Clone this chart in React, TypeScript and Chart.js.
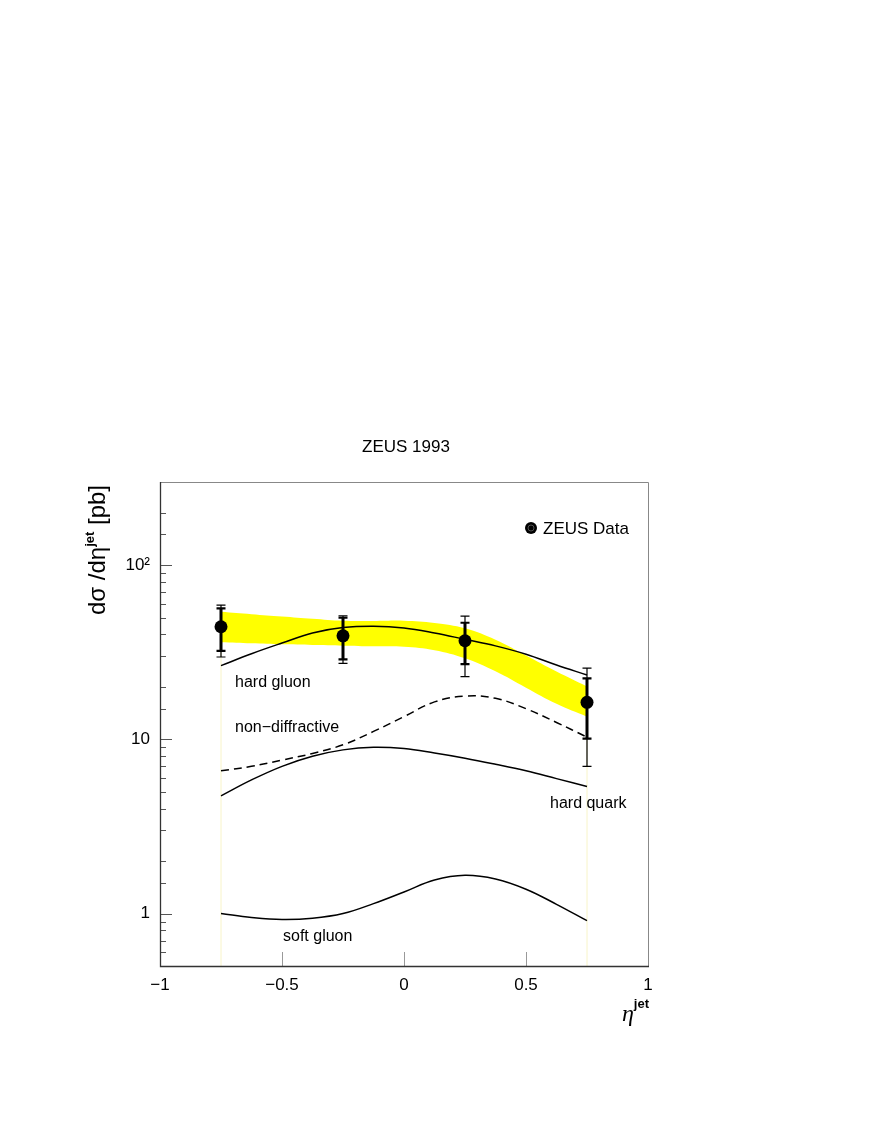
import React, { useEffect, useRef } from "react";
import { Chart, registerables } from "chart.js";

Chart.register(...registerables);

const FONT = '"Liberation Sans", Arial, Helvetica, sans-serif';

// Theory curves sampled in eta^jet
const etaGrid = [-0.75, -0.625, -0.5, -0.375, -0.25, -0.125, 0, 0.125, 0.25, 0.375, 0.5, 0.625, 0.75];
const hardGluon = [26.5, 31.0, 35.7, 40.8, 43.8, 44.6, 43.6, 40.8, 37.5, 34.4, 30.8, 26.7, 23.4];
const nonDiffractive = [6.6, 7.0, 7.6, 8.3, 9.3, 11.1, 13.5, 16.4, 17.7, 17.2, 15.0, 12.5, 10.3];
const hardQuark = [4.74, 5.85, 7.0, 8.0, 8.7, 9.0, 8.85, 8.35, 7.8, 7.2, 6.6, 5.95, 5.36];
const softGluon = [1.0, 0.95, 0.925, 0.94, 1.0, 1.14, 1.33, 1.56, 1.66, 1.58, 1.38, 1.13, 0.91];

// Yellow uncertainty band
const bandUpper = [54.0, 52.3, 50.7, 49.2, 47.9, 47.8, 48.0, 46.6, 43.4, 37.3, 30.3, 24.5, 20.1];
const bandLower = [36.1, 35.6, 35.1, 34.8, 34.5, 34.2, 34.0, 32.5, 29.2, 24.6, 19.8, 16.0, 13.5];

// ZEUS data
const dataEta = [-0.75, -0.25, 0.25, 0.75];
const dataValue = [44.3, 39.3, 36.8, 16.3];
const statHigh = [56.4, 49.9, 46.7, 22.4];
const statLow = [32.2, 28.8, 27.0, 10.1];
const totHigh = [59.0, 51.2, 51.0, 25.6];
const totLow = [29.7, 27.3, 22.9, 7.0];

// Axes
const X_MIN = -1;
const X_MAX = 1;
const Y_MIN = 0.5;
const Y_MAX = 300;
const xTickValues = [-1, -0.5, 0, 0.5, 1];
const xTickLabels = ["\u22121", "\u22120.5", "0", "0.5", "1"];
const yTickValues = [1, 10, 100];
const yTickLabels = ["1", "10", "10\u00B2"];

const pts = (xs: number[], ys: number[]) => xs.map((x, i) => ({ x, y: ys[i] }));

const errorBarPlugin = {
  id: "errorBars",
  afterDatasetsDraw(chart: any) {
    const { ctx } = chart;
    const x = chart.scales.x;
    const y = chart.scales.y;
    const capHalf = 4.5;
    ctx.save();
    ctx.strokeStyle = "#000";
    ctx.lineCap = "butt";
    dataEta.forEach((eta, i) => {
      const px = x.getPixelForValue(eta);
      const yTH = y.getPixelForValue(totHigh[i]);
      const yTL = y.getPixelForValue(totLow[i]);
      const ySH = y.getPixelForValue(statHigh[i]);
      const ySL = y.getPixelForValue(statLow[i]);
      ctx.lineWidth = 1.2;
      ctx.beginPath();
      ctx.moveTo(px, yTL);
      ctx.lineTo(px, yTH);
      ctx.moveTo(px - capHalf, yTL);
      ctx.lineTo(px + capHalf, yTL);
      ctx.moveTo(px - capHalf, yTH);
      ctx.lineTo(px + capHalf, yTH);
      ctx.stroke();
      ctx.lineWidth = 3;
      ctx.beginPath();
      ctx.moveTo(px, ySL);
      ctx.lineTo(px, ySH);
      ctx.stroke();
      ctx.lineWidth = 2.2;
      ctx.beginPath();
      ctx.moveTo(px - capHalf, ySL);
      ctx.lineTo(px + capHalf, ySL);
      ctx.moveTo(px - capHalf, ySH);
      ctx.lineTo(px + capHalf, ySH);
      ctx.stroke();
    });
    ctx.restore();
  },
};

const frameAndTicksPlugin = {
  id: "frameTicks",
  afterDraw(chart: any) {
    const { ctx, chartArea } = chart;
    const { left, right, top, bottom } = chartArea;
    const x = chart.scales.x;
    const y = chart.scales.y;
    ctx.save();
    ctx.strokeStyle = "#555";
    ctx.lineWidth = 1;
    y.ticks.forEach((t: any) => {
      const py = Math.round(y.getPixelForValue(t.value)) + 0.5;
      const lg = Math.log10(t.value);
      const major = Math.abs(lg - Math.round(lg)) < 1e-6;
      const len = major ? 12 : 6;
      ctx.beginPath();
      ctx.moveTo(left, py);
      ctx.lineTo(left + len, py);
      ctx.stroke();
    });
    ctx.strokeStyle = "#999";
    x.ticks.forEach((t: any) => {
      const px = Math.round(x.getPixelForValue(t.value)) + 0.5;
      ctx.beginPath();
      ctx.moveTo(px, bottom);
      ctx.lineTo(px, bottom - 14);
      ctx.stroke();
    });
    ctx.strokeStyle = "#888";
    ctx.lineWidth = 1;
    ctx.beginPath();
    ctx.moveTo(left, top + 0.5);
    ctx.lineTo(right + 0.5, top + 0.5);
    ctx.lineTo(right + 0.5, bottom);
    ctx.stroke();
    ctx.strokeStyle = "#333";
    ctx.lineWidth = 1.3;
    ctx.beginPath();
    ctx.moveTo(left + 0.5, top);
    ctx.lineTo(left + 0.5, bottom + 0.5);
    ctx.lineTo(right + 1, bottom + 0.5);
    ctx.stroke();
    ctx.restore();
  },
};

type Part = { text: string; font: string; dy: number };

function drawRun(ctx: CanvasRenderingContext2D, parts: Part[], startX: number) {
  let cx = startX;
  parts.forEach((p) => {
    ctx.font = p.font;
    ctx.fillText(p.text, cx, p.dy);
    cx += ctx.measureText(p.text).width;
  });
}

function runWidth(ctx: CanvasRenderingContext2D, parts: Part[]) {
  let w = 0;
  parts.forEach((p) => {
    ctx.font = p.font;
    w += ctx.measureText(p.text).width;
  });
  return w;
}

const textPlugin = {
  id: "texts",
  afterDraw(chart: any) {
    const { ctx } = chart;
    ctx.save();
    ctx.fillStyle = "#000";
    ctx.font = `17px ${FONT}`;
    ctx.textAlign = "center";
    ctx.textBaseline = "middle";
    ctx.fillText("ZEUS 1993", 406, 447);

    ctx.textAlign = "left";
    ctx.font = `16px ${FONT}`;
    ctx.fillText("hard gluon", 235, 683);
    ctx.fillText("non\u2212diffractive", 235, 728);
    ctx.fillText("hard quark", 550, 804);
    ctx.fillText("soft gluon", 283, 937);

    ctx.beginPath();
    ctx.arc(531, 528, 6, 0, Math.PI * 2);
    ctx.fill();
    ctx.strokeStyle = "#666";
    ctx.lineWidth = 0.8;
    ctx.beginPath();
    ctx.arc(531, 528, 3, 0, Math.PI * 2);
    ctx.stroke();
    ctx.fillStyle = "#000";
    ctx.font = `17px ${FONT}`;
    ctx.fillText("ZEUS Data", 543, 529);

    ctx.textBaseline = "alphabetic";
    const yParts: Part[] = [
      { text: "d\u03C3 /d\u03B7", font: `24px ${FONT}`, dy: 0 },
      { text: "jet", font: `bold 13px ${FONT}`, dy: -11 },
      { text: " [pb]", font: `24px ${FONT}`, dy: 0 },
    ];
    ctx.save();
    ctx.translate(105, 550);
    ctx.rotate(-Math.PI / 2);
    const yw = runWidth(ctx, yParts);
    drawRun(ctx, yParts, -yw / 2);
    ctx.restore();

    const xParts: Part[] = [
      { text: "\u03B7", font: `italic 24px "Liberation Serif", serif`, dy: 0 },
      { text: "jet", font: `bold 13px ${FONT}`, dy: -13 },
    ];
    ctx.save();
    ctx.translate(0, 1021);
    const xw = runWidth(ctx, xParts);
    drawRun(ctx, xParts, 649 - xw);
    ctx.restore();

    ctx.restore();
  },
};

export default function App() {
  const canvasRef = useRef<HTMLCanvasElement>(null);

  useEffect(() => {
    const canvas = canvasRef.current;
    if (!canvas) return;
    const lineBase = {
      type: "line" as const,
      pointRadius: 0,
      pointHoverRadius: 0,
      borderColor: "#000",
      borderWidth: 1.5,
      fill: false,
      tension: 0.4,
      order: 5,
    };
    const chart = new Chart(canvas, {
      type: "line",
      data: {
        datasets: [
          {
            label: "ZEUS Data",
            data: pts(dataEta, dataValue),
            showLine: false,
            pointRadius: 6.5,
            pointHoverRadius: 6.5,
            pointBackgroundColor: "#000",
            pointBorderColor: "#000",
            pointBorderWidth: 0,
            order: 0,
          },
          { ...lineBase, label: "hard gluon", data: pts(etaGrid, hardGluon) },
          { ...lineBase, label: "non-diffractive", data: pts(etaGrid, nonDiffractive), borderDash: [8, 5] },
          { ...lineBase, label: "hard quark", data: pts(etaGrid, hardQuark) },
          { ...lineBase, label: "soft gluon", data: pts(etaGrid, softGluon) },
          {
            ...lineBase,
            label: "band upper",
            data: pts(etaGrid, bandUpper),
            borderWidth: 0,
            borderColor: "rgba(0,0,0,0)",
            backgroundColor: "#ffff00",
            fill: "+1",
            order: 10,
          },
          {
            ...lineBase,
            label: "band lower",
            data: pts(etaGrid, bandLower),
            borderWidth: 0,
            borderColor: "rgba(0,0,0,0)",
            order: 10,
          },
          {
            ...lineBase,
            label: "band edge left",
            data: [
              { x: etaGrid[0], y: Y_MIN },
              { x: etaGrid[0], y: bandLower[0] },
            ],
            borderColor: "#f8f4c8",
            borderWidth: 1,
            tension: 0,
            order: 20,
          },
          {
            ...lineBase,
            label: "band edge right",
            data: [
              { x: etaGrid[etaGrid.length - 1], y: Y_MIN },
              { x: etaGrid[etaGrid.length - 1], y: bandLower[bandLower.length - 1] },
            ],
            borderColor: "#f8f4c8",
            borderWidth: 1,
            tension: 0,
            order: 20,
          },
        ],
      },
      options: {
        responsive: false,
        animation: false,
        devicePixelRatio: 1,
        events: [],
        layout: { padding: { left: 0, right: 224, top: 482, bottom: 122 } },
        plugins: {
          legend: { display: false },
          tooltip: { enabled: false },
          title: { display: false },
        },
        scales: {
          x: {
            type: "linear",
            min: X_MIN,
            max: X_MAX,
            afterFit: (s: any) => {
              s.height = 40;
            },
            afterBuildTicks: (s: any) => {
              s.ticks = xTickValues.map((v) => ({ value: v }));
            },
            grid: { display: false, drawTicks: false },
            border: { display: false },
            ticks: {
              autoSkip: false,
              maxRotation: 0,
              padding: 9,
              color: "#000",
              font: { family: FONT, size: 17 },
              callback: (v: any) => {
                const i = xTickValues.findIndex((t) => Math.abs(t - Number(v)) < 1e-9);
                return i >= 0 ? xTickLabels[i] : "";
              },
            },
          },
          y: {
            type: "logarithmic",
            min: Y_MIN,
            max: Y_MAX,
            afterFit: (s: any) => {
              s.width = 160;
            },
            grid: { display: false, drawTicks: false },
            border: { display: false },
            ticks: {
              autoSkip: false,
              padding: 10,
              color: "#000",
              font: { family: FONT, size: 17 },
              callback: (v: any) => {
                const i = yTickValues.findIndex((t) => Math.abs(t - Number(v)) < 1e-9 * t);
                return i >= 0 ? yTickLabels[i] : "";
              },
            },
          },
        },
      },
      plugins: [errorBarPlugin, frameAndTicksPlugin, textPlugin],
    } as any);
    return () => chart.destroy();
  }, []);

  return (
    <div style={{ position: "absolute", left: 0, top: 0, width: 872, height: 1128, background: "#fff" }}>
      <canvas ref={canvasRef} width={872} height={1128} style={{ display: "block", width: 872, height: 1128 }} />
    </div>
  );
}
